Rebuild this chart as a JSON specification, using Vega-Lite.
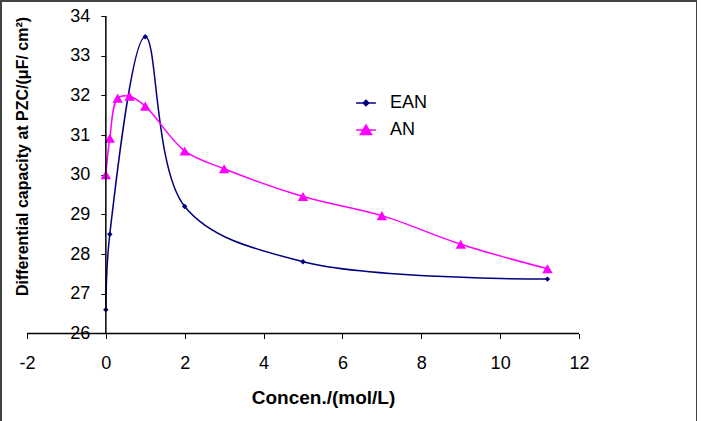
{
  "$schema": "https://vega.github.io/schema/vega-lite/v6.json",
  "autosize": "none",
  "padding": {"left": 1, "top": 1, "right": 0, "bottom": 0},
  "width": 696,
  "height": 425,
  "background": "white",
  "config": {
    "view": {"stroke": "#444444", "strokeWidth": 2},
    "font": "Liberation Sans",
    "axis": {"labelFont": "Liberation Sans", "titleFont": "Liberation Sans", "labelColor": "#000000", "titleColor": "#000000", "tickColor": "#000000", "grid": false}
  },
  "datasets": {
    "curves": [
      {"series": "EAN", "conc": 0, "cap": 26.6},
      {"series": "EAN", "conc": 0.1, "cap": 28.5},
      {"series": "EAN", "conc": 1, "cap": 33.48},
      {"series": "EAN", "conc": 2, "cap": 29.2},
      {"series": "EAN", "conc": 5, "cap": 27.81},
      {"series": "EAN", "conc": 11.2, "cap": 27.37},
      {"series": "AN", "conc": 0, "cap": 30.0},
      {"series": "AN", "conc": 0.1, "cap": 30.92},
      {"series": "AN", "conc": 0.3, "cap": 31.93},
      {"series": "AN", "conc": 0.6, "cap": 31.98},
      {"series": "AN", "conc": 1, "cap": 31.73},
      {"series": "AN", "conc": 2, "cap": 30.6},
      {"series": "AN", "conc": 3, "cap": 30.15},
      {"series": "AN", "conc": 5, "cap": 29.45},
      {"series": "AN", "conc": 7, "cap": 28.97},
      {"series": "AN", "conc": 9, "cap": 28.25},
      {"series": "AN", "conc": 11.2, "cap": 27.63}
    ],
    "axislines": [
      {"conc": -2, "conc_end": 12, "cap": 26, "cap_end": 26},
      {"conc": 0, "conc_end": 0, "cap": 26, "cap_end": 34}
    ]
  },
  "layer": [
    {
      "data": {"name": "curves"},
      "mark": {"type": "line", "interpolate": "catmull-rom", "strokeWidth": 1.5},
      "encoding": {
        "x": {
          "field": "conc", "type": "quantitative",
          "scale": {"domain": [-2.659, 14.993], "nice": false, "zero": false},
          "axis": {
            "title": "Concen./(mol/L)",
            "values": [-2, 0, 2, 4, 6, 8, 10, 12],
            "labelExpr": "'' + datum.value",
            "offset": -92.5,
            "domain": false,
            "tickSize": 5,
            "labelFontSize": 18,
            "labelPadding": 16,
            "labelFlush": false,
            "titleFontSize": 19,
            "titleFontWeight": "bold",
            "titleX": 322,
            "titleY": 64,
            "titleAlign": "center",
            "titleBaseline": "middle"
          }
        },
        "y": {
          "field": "cap", "type": "quantitative",
          "scale": {"domain": [23.669, 34.378], "nice": false, "zero": false},
          "axis": {
            "title": "Differential capacity at PZC/(μF/ cm²)",
            "values": [26, 27, 28, 29, 30, 31, 32, 33, 34],
            "offset": -104.86,
            "domain": false,
            "tickSize": 5,
            "labelFontSize": 18,
            "labelPadding": 11,
            "labelFlush": false,
            "titleFontSize": 16,
            "titleFontWeight": "bold",
            "titleAngle": 270,
            "titleX": -83,
            "titleY": 155,
            "titleAlign": "center",
            "titleBaseline": "middle"
          }
        },
        "color": {
          "field": "series", "type": "nominal",
          "scale": {"domain": ["EAN", "AN"], "range": ["#000080", "#FF00FF"]},
          "legend": {
            "orient": "none",
            "legendX": 353,
            "legendY": 90,
            "title": null,
            "padding": 0,
            "symbolSize": 484,
            "rowPadding": 6,
            "labelOffset": 12,
            "labelFontSize": 18,
            "labelFont": "Liberation Sans",
            "labelColor": "#000000",
            "encode": {
              "symbols": {
                "update": {
                  "shape": {"signal": "datum.value === 'EAN' ? 'M-0.9,0H0.9M-0.25,0L0,-0.25L0.25,0L0,0.25Z' : 'M-0.9,0H0.9M-0.5,0.4L0,-0.45L0.5,0.4Z'"},
                  "fill": {"signal": "datum.value === 'EAN' ? '#000080' : '#FF00FF'"},
                  "stroke": {"signal": "datum.value === 'EAN' ? '#000080' : '#FF00FF'"},
                  "strokeWidth": {"value": 1.5},
                  "opacity": {"value": 1},
                  "fillOpacity": {"value": 1}
                }
              }
            }
          }
        },
        "detail": {"field": "series"}
      }
    },
    {
      "data": {"name": "curves"},
      "transform": [{"filter": "datum.series === 'EAN'"}],
      "mark": {"type": "point", "filled": true, "opacity": 1, "shape": "diamond", "size": 30, "color": "#000080"},
      "encoding": {
        "x": {"field": "conc", "type": "quantitative"},
        "y": {"field": "cap", "type": "quantitative"}
      }
    },
    {
      "data": {"name": "curves"},
      "transform": [{"filter": "datum.series === 'AN'"}],
      "mark": {"type": "point", "filled": true, "opacity": 1, "shape": "triangle-up", "size": 110, "color": "#FF00FF"},
      "encoding": {
        "x": {"field": "conc", "type": "quantitative"},
        "y": {"field": "cap", "type": "quantitative"}
      }
    },
    {
      "data": {"name": "axislines"},
      "mark": {"type": "rule", "color": "#000000", "strokeWidth": 1.5},
      "encoding": {
        "x": {"field": "conc", "type": "quantitative"},
        "x2": {"field": "conc_end"},
        "y": {"field": "cap", "type": "quantitative"},
        "y2": {"field": "cap_end"}
      }
    }
  ]
}
